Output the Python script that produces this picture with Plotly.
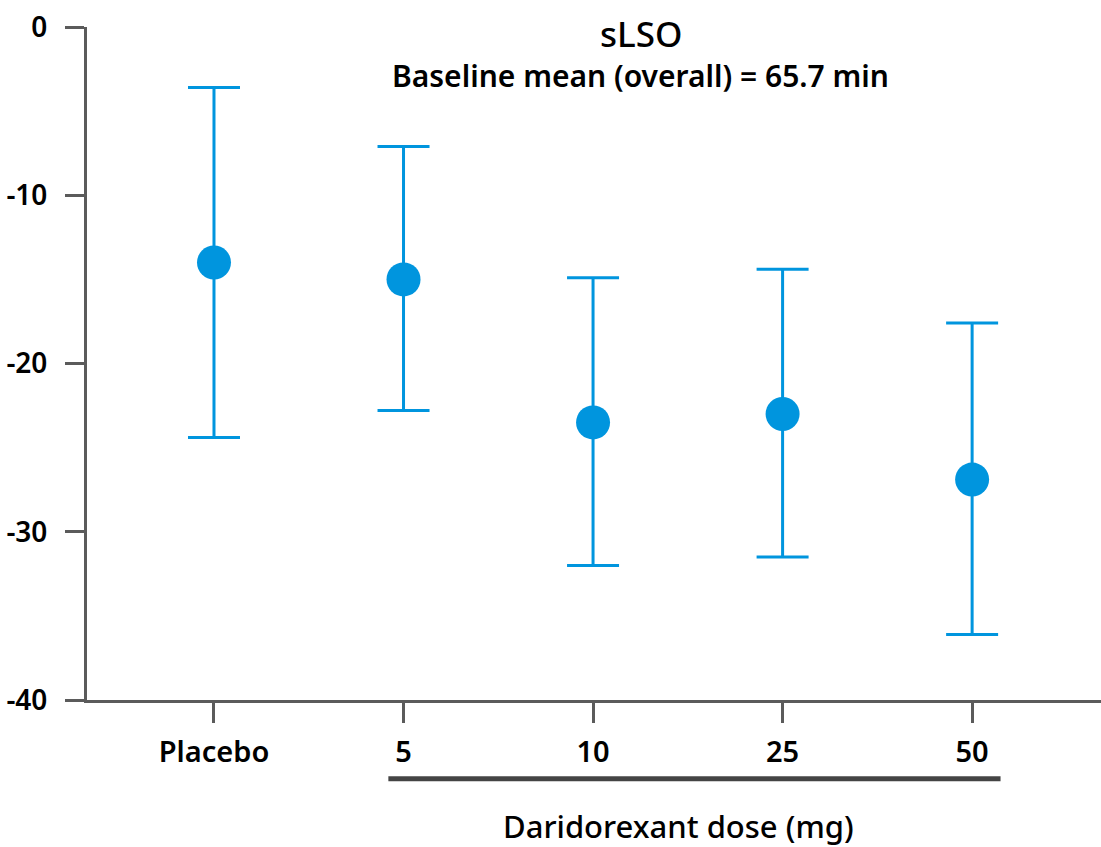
import plotly.graph_objects as go

categories = ["Placebo", "5", "10", "25", "50"]
means = [-14.0, -15.0, -23.5, -23.0, -26.9]
upper = [-3.6, -7.1, -14.9, -14.4, -17.6]
lower = [-24.4, -22.8, -32.0, -31.5, -36.1]
y_ticks = [0, -10, -20, -30, -40]

BLUE = "#0095DE"
AXIS = "#5b5b5b"
FONT = "Noto Sans"

xpos = list(range(len(categories)))
err_plus = [u - m for u, m in zip(upper, means)]
err_minus = [m - l for m, l in zip(means, lower)]

fig = go.Figure()
fig.add_trace(go.Scatter(
    x=xpos, y=means, mode="markers",
    marker=dict(size=34, color=BLUE),
    error_y=dict(type="data", symmetric=False, array=err_plus, arrayminus=err_minus,
                 color=BLUE, thickness=3, width=26),
    showlegend=False,
))

fig.update_layout(
    width=1101, height=847,
    margin=dict(l=87, r=0, t=27, b=147),
    plot_bgcolor="white", paper_bgcolor="white",
    font=dict(family=FONT, color="black"),
    xaxis=dict(
        range=[-0.67, 4.68], tickvals=xpos, ticktext=categories,
        showline=True, linecolor=AXIS, linewidth=3,
        ticks="outside", ticklen=20, tickwidth=3, tickcolor=AXIS,
        showgrid=False, zeroline=False,
        tickfont=dict(size=29, family=FONT, weight=600), ticklabelstandoff=4,
    ),
    yaxis=dict(
        range=[-40, 0], tickvals=y_ticks, ticktext=[str(v) for v in y_ticks],
        showline=True, linecolor=AXIS, linewidth=3,
        ticks="outside", ticklen=19, tickwidth=3, tickcolor=AXIS,
        showgrid=False, zeroline=False,
        tickfont=dict(size=28, family=FONT, weight=600), ticklabelstandoff=12,
    ),
)

fig.add_annotation(text="sLSO", xref="paper", yref="paper", x=0.546, y=1.0,
                   yshift=-6, showarrow=False, yanchor="middle",
                   font=dict(size=35, family=FONT, weight=500))
fig.add_annotation(text="Baseline mean (overall) = 65.7 min", xref="paper", yref="paper",
                   x=0.546, y=1.0, yshift=-48, showarrow=False, yanchor="middle",
                   font=dict(size=30, family=FONT, weight=600))

fig.add_shape(type="line", xref="x", yref="paper", x0=0.92, x1=4.15,
              y0=-0.117, y1=-0.117, line=dict(color="#444444", width=5))
fig.add_annotation(text="Daridorexant dose (mg)", xref="x", yref="paper", x=2.45,
                   y=-0.187, showarrow=False, yanchor="middle",
                   font=dict(size=31, family=FONT, weight=500))

fig.write_html("out.html")
